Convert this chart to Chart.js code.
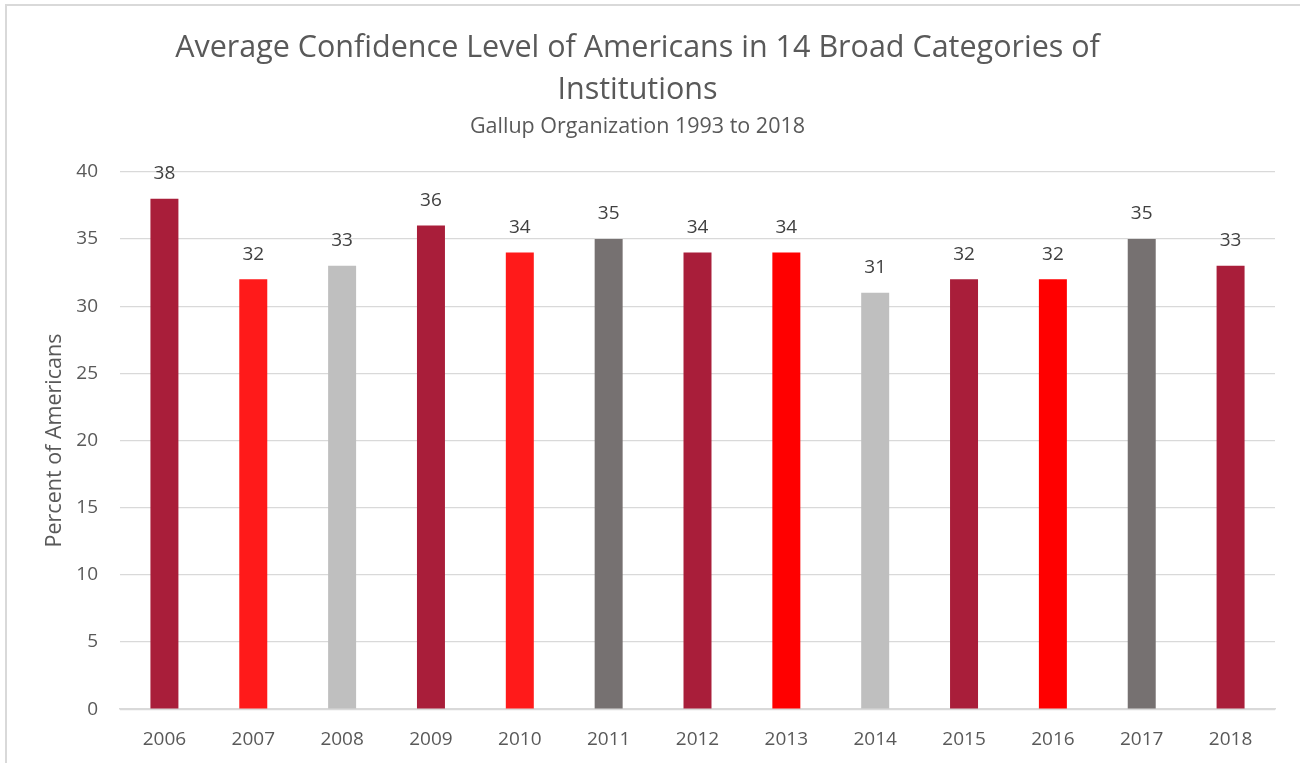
<!DOCTYPE html>
<html>
<head>
<meta charset="utf-8">
<script src="https://cdn.jsdelivr.net/npm/chart.js@4/dist/chart.umd.min.js"></script>
<style>
  html, body { margin: 0; padding: 0; background: #fff; overflow: hidden; }
  #frame { position: absolute; left: 5px; top: 4px; width: 1400px; height: 900px; border: 2px solid #D9D9D9; box-sizing: border-box; }
  #c { position: absolute; left: 0; top: 0; }
</style>
</head>
<body>
<div id="frame"></div>
<canvas id="c" width="1300" height="763"></canvas>
<script>
const years = ['2006','2007','2008','2009','2010','2011','2012','2013','2014','2015','2016','2017','2018'];
const confidence = [38, 32, 33, 36, 34, 35, 34, 34, 31, 32, 32, 35, 33];
const barColors = ['#A91E3A','#FF1A1A','#BFBFBF','#A91E3A','#FF1A1A','#767171','#A91E3A','#FF0000','#BFBFBF','#A91E3A','#FF0000','#767171','#A91E3A'];
const titleLines = ['Average Confidence Level of Americans in 14 Broad Categories of', 'Institutions'];
const subtitleText = 'Gallup Organization 1993 to 2018';
const yAxisTitle = 'Percent of Americans';

const FONT = "'Open Sans', 'Noto Sans', sans-serif";

const valueLabels = {
  id: 'valueLabels',
  afterDatasetsDraw(chart) {
    const ctx = chart.ctx;
    const meta = chart.getDatasetMeta(0);
    ctx.save();
    ctx.font = '19px ' + FONT;
    ctx.fillStyle = '#404040';
    ctx.textAlign = 'center';
    ctx.textBaseline = 'middle';
    meta.data.forEach((bar, i) => {
      ctx.fillText(String(confidence[i]), bar.x, bar.y - 25);
    });
    ctx.restore();
  }
};

new Chart(document.getElementById('c'), {
  type: 'bar',
  data: {
    labels: years,
    datasets: [{
      data: confidence,
      backgroundColor: barColors,
      borderWidth: 0,
      barPercentage: 0.315,
      categoryPercentage: 1.0
    }]
  },
  options: {
    responsive: false,
    animation: false,
    devicePixelRatio: 1,
    layout: { padding: { left: 0, right: 25, top: 0, bottom: -7 } },
    plugins: {
      legend: { display: false },
      tooltip: { enabled: false },
      title: {
        display: true,
        text: titleLines,
        color: '#595959',
        font: { family: FONT, size: 30.5, weight: 'normal', lineHeight: 1.38 },
        padding: { top: 27, bottom: 4 }
      },
      subtitle: {
        display: true,
        text: subtitleText,
        color: '#595959',
        font: { family: FONT, size: 21.5, weight: 'normal', lineHeight: 1.1 },
        padding: { top: 0, bottom: 33 }
      }
    },
    scales: {
      x: {
        grid: { display: false, drawTicks: false },
        border: { display: true, color: '#D9D9D9', width: 1.5 },
        ticks: { color: '#595959', font: { family: FONT, size: 19 }, padding: 19 }
      },
      y: {
        min: 0,
        max: 40,
        ticks: { stepSize: 5, color: '#595959', font: { family: FONT, size: 19 }, padding: 22 },
        grid: { color: '#D9D9D9', lineWidth: 1.3, drawTicks: false },
        border: { display: false },
        title: {
          display: true,
          text: yAxisTitle,
          color: '#595959',
          font: { family: FONT, size: 21.5, weight: 'normal', lineHeight: 1.2 },
          padding: { top: 42, bottom: 0 }
        },
        afterFit(scale) { scale.width = 120; }
      }
    }
  },
  plugins: [valueLabels]
});
</script>
</body>
</html>
